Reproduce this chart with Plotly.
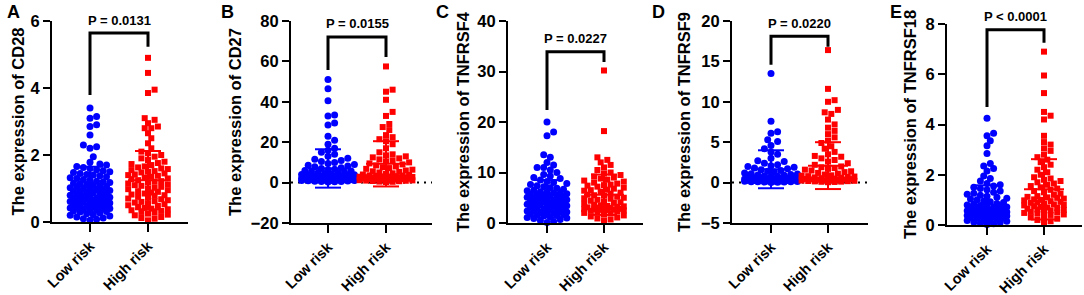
import plotly.graph_objects as go

# ---------------- data ----------------
genes = ["CD28", "CD27", "TNFRSF4", "TNFRSF9", "TNFRSF18"]
panel_labels = ["A", "B", "C", "D", "E"]
p_texts = ["P = 0.0131", "P = 0.0155", "P = 0.0227", "P = 0.0220", "P < 0.0001"]
groups = ["Low risk", "High risk"]
y_ranges = [[0, 6], [-20, 80], [0, 40], [-5, 20], [0, 8]]
y_dticks = [2, 20, 10, 5, 2]

low_A = [0.05, 0.08, 0.1, 0.12, 0.15, 0.18, 0.2, 0.22, 0.25, 0.27, 0.3, 0.31, 0.33, 0.35, 0.36, 0.38,
         0.4, 0.41, 0.42, 0.44, 0.45, 0.47, 0.48, 0.5, 0.51, 0.52, 0.54, 0.55, 0.57, 0.58, 0.6, 0.61,
         0.62, 0.64, 0.65, 0.67, 0.68, 0.7, 0.71, 0.72, 0.74, 0.75, 0.77, 0.78, 0.8, 0.82, 0.84, 0.85,
         0.87, 0.88, 0.9, 0.92, 0.94, 0.95, 0.97, 0.99, 1.0, 1.02, 1.04, 1.06, 1.08, 1.1, 1.12, 1.14,
         1.16, 1.18, 1.2, 1.22, 1.25, 1.27, 1.3, 1.32, 1.35, 1.38, 1.4, 1.42, 1.45, 1.48, 1.5, 1.53,
         1.56, 1.6, 1.63, 1.66, 1.7, 1.73, 1.78, 1.95, 2.2, 2.25, 2.3, 2.6, 2.85, 2.9, 3.1, 3.15, 3.4]
high_A = [0.05, 0.1, 0.12, 0.15, 0.2, 0.22, 0.25, 0.28, 0.3, 0.33, 0.35, 0.38, 0.4, 0.42, 0.45, 0.48,
          0.5, 0.53, 0.55, 0.58, 0.6, 0.62, 0.65, 0.68, 0.7, 0.72, 0.75, 0.78, 0.8, 0.82, 0.85, 0.88,
          0.9, 0.92, 0.95, 0.98, 1.0, 1.02, 1.05, 1.08, 1.1, 1.12, 1.15, 1.18, 1.2, 1.22, 1.25, 1.28,
          1.3, 1.32, 1.35, 1.38, 1.4, 1.42, 1.45, 1.48, 1.5, 1.52, 1.55, 1.58, 1.6, 1.63, 1.66, 1.7,
          1.73, 1.76, 1.8, 1.85, 1.9, 1.95, 2.0, 2.05, 2.1, 2.2, 2.35, 2.5, 2.65, 2.8, 2.8, 2.85, 2.95,
          3.05, 3.1, 3.85, 3.95, 4.45, 4.9]
low_B = [0.3, 0.4, 0.5, 0.6, 0.7, 0.8, 0.9, 1.0, 1.05, 1.1, 1.2, 1.25, 1.3, 1.4, 1.45, 1.5, 1.6, 1.65,
         1.7, 1.8, 1.85, 1.9, 2.0, 2.05, 2.1, 2.2, 2.25, 2.3, 2.4, 2.5, 2.6, 2.7, 2.8, 2.9, 3.0, 3.1,
         3.2, 3.3, 3.4, 3.5, 3.7, 3.9, 4.0, 4.2, 4.5, 4.7, 5.0, 5.3, 5.5, 5.8, 6.0, 6.3, 6.6, 7.0, 7.4,
         7.8, 8.2, 8.6, 9.0, 9.5, 10, 10.5, 11, 11.5, 12, 13, 14, 15, 16, 17, 19, 21, 23, 28.5, 29.5,
         33, 33.5, 40.5, 46.5, 51]
high_B = [0.3, 0.4, 0.5, 0.7, 0.8, 0.9, 1.0, 1.1, 1.2, 1.3, 1.4, 1.5, 1.6, 1.7, 1.8, 1.9, 2.0, 2.1,
          2.2, 2.3, 2.4, 2.5, 2.6, 2.7, 2.8, 2.9, 3.0, 3.1, 3.2, 3.4, 3.5, 3.6, 3.8, 4.0, 4.3, 4.6, 5.0,
          5.3, 5.6, 6.0, 6.4, 6.8, 7.2, 7.6, 8.0, 8.5, 9.0, 9.5, 10, 10.5, 11, 11.5, 12, 12.5, 13,
          13.5, 14, 15, 17, 19, 20.5, 21.5, 22.5, 23.5, 26, 27.5, 29, 33, 35, 41, 45, 46, 57.5]
low_C = [0.1, 0.3, 0.5, 0.7, 0.9, 1.0, 1.1, 1.2, 1.4, 1.5, 1.6, 1.7, 1.8, 1.9, 2.0, 2.1, 2.2, 2.3,
         2.4, 2.5, 2.6, 2.7, 2.8, 2.9, 3.0, 3.1, 3.2, 3.3, 3.4, 3.5, 3.6, 3.7, 3.8, 3.9, 4.0, 4.1, 4.2,
         4.3, 4.4, 4.5, 4.6, 4.7, 4.8, 4.9, 5.0, 5.1, 5.2, 5.3, 5.4, 5.5, 5.6, 5.7, 5.8, 5.9, 6.0,
         6.1, 6.2, 6.4, 6.5, 6.7, 6.9, 7.0, 7.2, 7.4, 7.6, 7.8, 8.0, 8.2, 8.5, 8.8, 9.0, 9.3, 9.6,
         10.0, 10.5, 11, 11, 11.5, 12, 13, 13.5, 17.3, 18, 20]
high_C = [0.5, 0.7, 0.9, 1.1, 1.3, 1.5, 1.7, 1.9, 2.0, 2.2, 2.3, 2.4, 2.5, 2.55, 2.6, 2.65, 2.7, 2.75,
          2.8, 2.9, 3.0, 3.05, 3.1, 3.2, 3.3, 3.4, 3.5, 3.6, 3.8, 4.0, 4.1, 4.2, 4.4, 4.6, 4.8, 4.9,
          5.0, 5.2, 5.4, 5.5, 5.6, 5.8, 6.0, 6.2, 6.4, 6.5, 6.6, 6.8, 7.0, 7.2, 7.4, 7.5, 7.6, 7.8,
          8.0, 8.2, 8.4, 8.6, 8.8, 9.0, 9.2, 9.5, 9.8, 10, 10.5, 11, 11.5, 12, 12.5, 13, 18.2, 30.2]
low_D = [0.02, 0.05, 0.06, 0.08, 0.1, 0.11, 0.12, 0.15, 0.16, 0.18, 0.2, 0.21, 0.22, 0.25, 0.26,
         0.28, 0.3, 0.31, 0.32, 0.35, 0.36, 0.38, 0.4, 0.41, 0.42, 0.45, 0.46, 0.48, 0.5, 0.52, 0.55,
         0.6, 0.65, 0.7, 0.75, 0.8, 0.85, 0.9, 0.95, 1.0, 1.05, 1.1, 1.2, 1.3, 1.4, 1.5, 1.6, 1.7,
         1.8, 1.9, 2.0, 2.1, 2.2, 2.4, 2.6, 2.7, 3.0, 3.5, 3.8, 4.2, 4.6, 5.1, 5.3, 6.1, 6.3, 7.6, 13.5]
high_D = [0.05, 0.08, 0.1, 0.12, 0.15, 0.18, 0.2, 0.22, 0.25, 0.28, 0.3, 0.33, 0.35, 0.38, 0.4, 0.43,
          0.45, 0.48, 0.5, 0.55, 0.6, 0.65, 0.7, 0.75, 0.8, 0.85, 0.9, 1.0, 1.1, 1.2, 1.3, 1.4, 1.5,
          1.6, 1.7, 1.8, 1.9, 2.0, 2.2, 2.4, 2.6, 2.8, 3.0, 3.2, 3.3, 3.5, 3.8, 4.2, 4.5, 4.9, 5.2,
          5.6, 6.0, 6.4, 6.8, 7.2, 7.8, 8.5, 8.7, 9.0, 10.0, 10.2, 11.6, 16.4]
low_E = [0.02, 0.05, 0.08, 0.1, 0.12, 0.15, 0.18, 0.2, 0.22, 0.25, 0.27, 0.28, 0.3, 0.32, 0.33, 0.35,
         0.36, 0.37, 0.38, 0.4, 0.41, 0.42, 0.43, 0.45, 0.46, 0.47, 0.48, 0.5, 0.52, 0.53, 0.55, 0.57,
         0.58, 0.6, 0.62, 0.63, 0.65, 0.67, 0.68, 0.7, 0.72, 0.73, 0.75, 0.78, 0.8, 0.83, 0.86, 0.9,
         0.93, 0.96, 1.0, 1.03, 1.06, 1.1, 1.14, 1.18, 1.22, 1.26, 1.3, 1.35, 1.4, 1.45, 1.5, 1.55,
         1.6, 1.65, 1.75, 1.85, 1.95, 2.15, 2.25, 2.35, 2.45, 2.85, 3.15, 3.35, 3.55, 3.65, 4.25]
high_E = [0.1, 0.15, 0.2, 0.25, 0.3, 0.35, 0.4, 0.42, 0.45, 0.48, 0.5, 0.52, 0.55, 0.58, 0.6, 0.62,
          0.65, 0.68, 0.7, 0.72, 0.75, 0.78, 0.8, 0.82, 0.85, 0.88, 0.9, 0.92, 0.95, 0.98, 1.0, 1.02,
          1.05, 1.08, 1.1, 1.12, 1.15, 1.2, 1.25, 1.3, 1.35, 1.4, 1.45, 1.5, 1.55, 1.6, 1.65, 1.7,
          1.75, 1.8, 1.85, 1.9, 2.0, 2.1, 2.2, 2.3, 2.4, 2.5, 2.6, 2.7, 2.8, 2.95, 3.05, 3.2, 3.3,
          3.55, 4.2, 4.35, 4.5, 5.25, 5.95, 6.9]

low_values = [low_A, low_B, low_C, low_D, low_E]
high_values = [high_A, high_B, high_C, high_D, high_E]
mean_low = [0.97, 7.0, 4.8, 1.65, 0.82]
sd_low = [0.68, 9.5, 3.7, 2.35, 0.76]
mean_high = [1.25, 9.3, 5.6, 2.1, 1.42]
sd_high = [0.87, 11.2, 4.0, 2.9, 1.2]
bracket_top = [5.64, 72.1, 33.9, 18.1, 7.77]
bracket_left = [3.79, 55.7, 22.4, 14.6, 4.70]
bracket_right = [5.23, 62.2, 31.9, 16.8, 7.25]
dotted_zero = [False, True, False, True, False]

# ---------------- layout geometry (pixels) ----------------
W, H = 1084, 295
axis_x = [52, 291, 508, 732, 947]
axis_end = [188, 432, 643, 868, 1082]
cat0_px = [90, 328, 547, 771, 987]
cat1_px = [148, 386, 604, 828, 1044]
plot_top = [21, 21, 21, 21, 24]
plot_bot = [222, 223, 223, 223, 225]
label_x = [5, 219, 434, 650, 888]
title_standoff = [2, 5, 4, 6, 5]
swarm_half = [21, 27, 21, 27, 21]

FONT = "Liberation Sans, Arial, sans-serif"
BLUE = "#0000FF"
RED = "#FF0000"


def swarm(vals, px_per_y, max_half, diam=6.0):
    """Beeswarm offsets (pixels) so markers avoid overlapping."""
    order = sorted(range(len(vals)), key=lambda i: vals[i])
    placed = []
    offs = [0.0] * len(vals)
    step = diam * 0.55
    cands = [0.0]
    k = 1
    while k * step <= max_half:
        cands += [k * step, -k * step]
        k += 1
    for i in order:
        y = vals[i] * px_per_y
        near = [(px, py) for (px, py) in placed if abs(py - y) < diam]
        best, bestd = None, -1
        for c in cands:
            md = min([((c - px) ** 2 + (y - py) ** 2) ** 0.5 for px, py in near] or [99])
            if md >= diam:
                best = c
                break
            if md > bestd:
                bestd, best = md, c
        offs[i] = best
        placed.append((best, y))
    return offs


fig = go.Figure()
layout = dict(width=W, height=H, margin=dict(l=0, r=0, t=0, b=0, autoexpand=False),
              plot_bgcolor="white", paper_bgcolor="white", showlegend=False,
              font=dict(family=FONT, color="black"))
shapes = []
annotations = []

for p in range(5):
    n = "" if p == 0 else str(p + 1)
    xa, ya = "x" + n, "y" + n
    unit = cat1_px[p] - cat0_px[p]
    x_lo = -(cat0_px[p] - axis_x[p]) / unit
    x_hi = 1 + (axis_end[p] - cat1_px[p]) / unit
    y0, y1 = y_ranges[p]
    px_per_y = (plot_bot[p] - plot_top[p]) / (y1 - y0)

    layout["xaxis" + n] = dict(
        domain=[axis_x[p] / W, axis_end[p] / W], range=[x_lo, x_hi], anchor=ya,
        automargin=False,
        tickvals=[0, 1], ticktext=groups, tickangle=-45, showgrid=False, zeroline=False,
        showline=True, linecolor="black", linewidth=2, ticks="outside", ticklen=8,
        tickwidth=2, tickcolor="black",
        tickfont=dict(family=FONT, size=14.5, color="black", weight="bold"))
    layout["yaxis" + n] = dict(
        domain=[1 - plot_bot[p] / H, 1 - plot_top[p] / H], range=[y0, y1], anchor=xa,
        automargin=False,
        dtick=y_dticks[p], tick0=0, showgrid=False, zeroline=False, showline=True,
        linecolor="black", linewidth=2, ticks="outside", ticklen=7, tickwidth=2,
        tickcolor="black",
        tickfont=dict(family=FONT, size=16.5, color="black", weight="bold"),
        title=dict(text="The expression of " + genes[p], standoff=title_standoff[p],
                   font=dict(family=FONT, size=16.5, color="black", weight="bold")))

    for gi, (vals, m, sd, col, sym, sz) in enumerate([
            (low_values[p], mean_low[p], sd_low[p], BLUE, "circle", 7),
            (high_values[p], mean_high[p], sd_high[p], RED, "square", 6)]):
        offs = swarm(vals, px_per_y, swarm_half[p])
        fig.add_trace(go.Scatter(
            x=[gi + o / unit for o in offs], y=vals, mode="markers", xaxis=xa, yaxis=ya,
            marker=dict(symbol=sym, size=sz, color=col, line=dict(width=0)),
            cliponaxis=False, hoverinfo="y"))
        mw = 20 / unit
        cw = 13 / unit
        fig.add_trace(go.Scatter(
            x=[gi - mw, gi + mw, None, gi, gi, None, gi - cw, gi + cw, None, gi - cw, gi + cw],
            y=[m, m, None, m - sd, m + sd, None, m + sd, m + sd, None, m - sd, m - sd],
            mode="lines", xaxis=xa, yaxis=ya, line=dict(color=col, width=2),
            hoverinfo="skip"))

    # significance bracket
    fig.add_trace(go.Scatter(
        x=[0, 0, 1, 1], y=[bracket_left[p], bracket_top[p], bracket_top[p], bracket_right[p]],
        mode="lines", xaxis=xa, yaxis=ya, line=dict(color="black", width=3),
        hoverinfo="skip"))
    annotations.append(dict(
        x=0.5, y=bracket_top[p], xref=xa, yref=ya, text=p_texts[p], showarrow=False,
        yanchor="middle", yshift=13,
        font=dict(family=FONT, size=13, color="black", weight="bold")))

    if dotted_zero[p]:
        shapes.append(dict(type="line", xref=xa, yref=ya, x0=x_lo, x1=x_hi, y0=0, y1=0,
                           line=dict(color="black", width=2, dash="2px,5px"), layer="below"))

    annotations.append(dict(
        x=label_x[p] / W, y=1 - 12 / H, xref="paper", yref="paper", text=panel_labels[p],
        showarrow=False, xanchor="left", yanchor="middle",
        font=dict(family=FONT, size=18, color="black", weight="bold")))

layout["shapes"] = shapes
layout["annotations"] = annotations
fig.update_layout(**layout)
fig.write_html("out.html", config={"displayModeBar": False},
               post_script="document.body.style.margin='0';document.body.style.overflow='hidden';")
